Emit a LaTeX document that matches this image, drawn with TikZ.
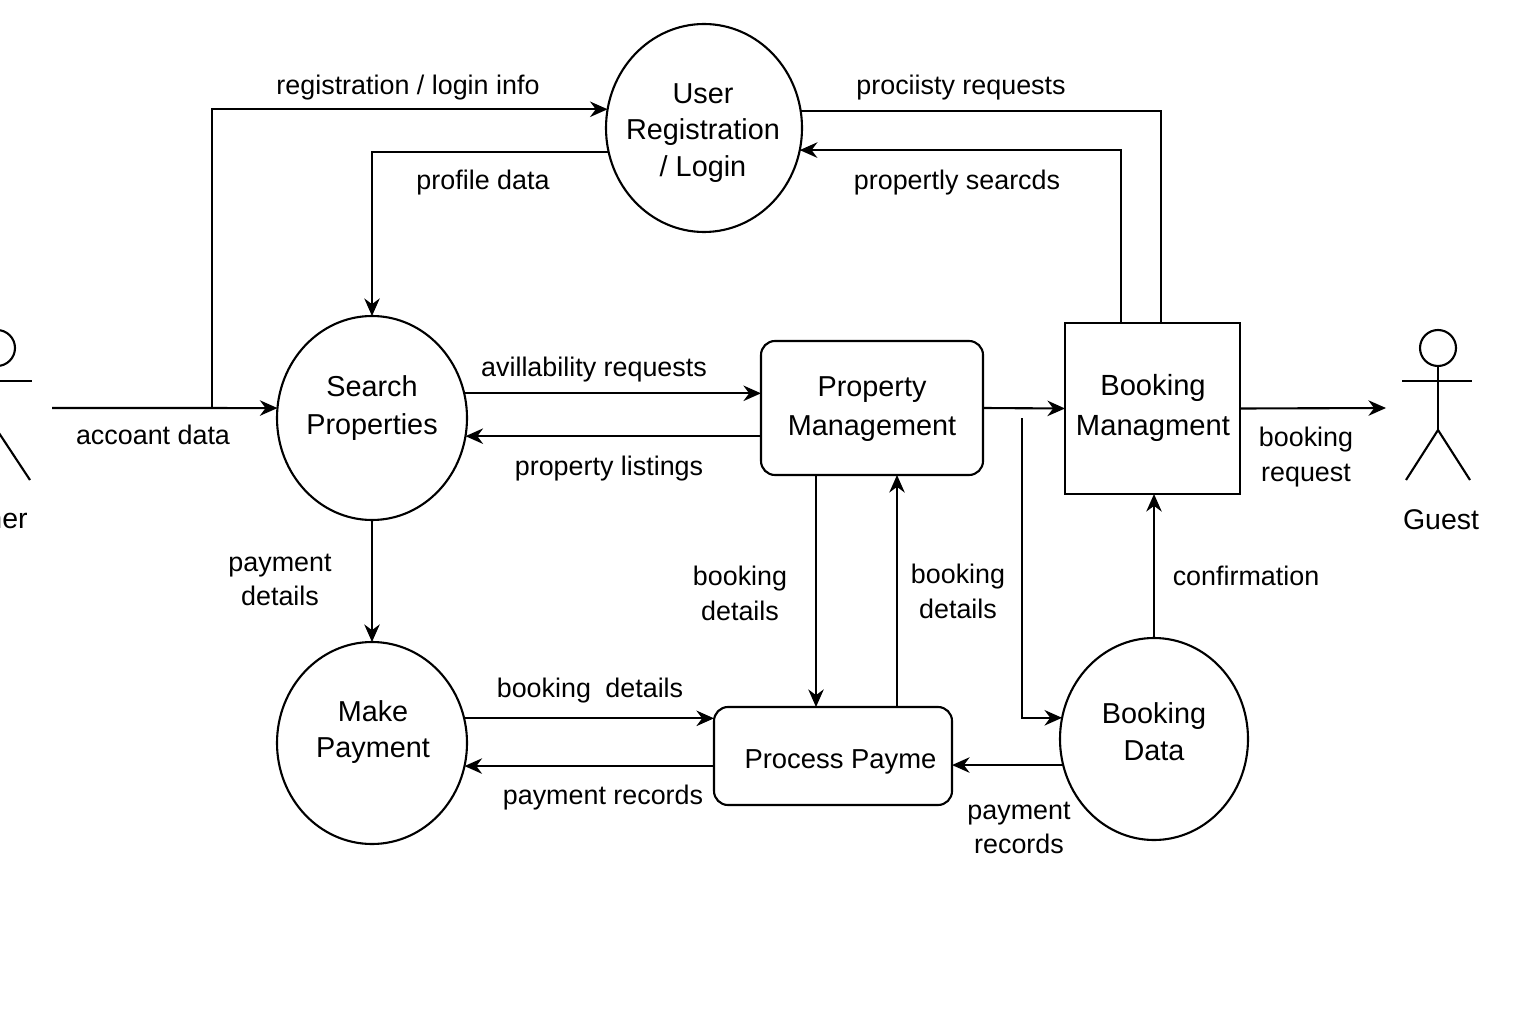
\documentclass[tikz,border=0pt]{standalone}
\usepackage{fontspec}
\setmainfont{Liberation Sans}
\usetikzlibrary{arrows.meta,shapes.geometric}
\tikzset{
  procnode/.style={draw,ellipse,inner sep=0pt,outer sep=0pt},
  boxnode/.style={draw,rectangle,inner sep=0pt,outer sep=0pt},
  proctext/.style={align=center,inner sep=0pt,font=\fontsize{8.2}{10.5}\selectfont},
  flowlabel/.style={align=center,inner sep=0pt,font=\fontsize{7.65}{9.9}\selectfont},
  flow/.style={-{Stealth[length=5pt,width=4.4pt]}}
}
\begin{document}
\begin{tikzpicture}[line width=0.6pt]
    \useasboundingbox (0,0) rectangle (15.36,10.24);

    % processes
    \node[procnode,minimum width=1.96cm,minimum height=2.08cm] (ur) at (7.04,8.96) {};
    \node[procnode,minimum width=1.90cm,minimum height=2.04cm] (search) at (3.72,6.06) {};
    \node[procnode,minimum width=1.90cm,minimum height=2.02cm] (mp) at (3.72,2.81) {};
    \node[procnode,minimum width=1.88cm,minimum height=2.02cm] (bd) at (11.54,2.85) {};
    \node[boxnode,rounded corners=0.14cm,minimum width=2.22cm,minimum height=1.34cm] (pm) at (8.72,6.16) {};
    \node[boxnode,minimum width=1.75cm,minimum height=1.71cm] (bm) at (11.525,6.155) {};
    \node[boxnode,rounded corners=0.14cm,minimum width=2.38cm,minimum height=0.98cm] (pp) at (8.33,2.68) {};

    \node[proctext] (urtext) at (7.03,8.91) {User\\Registration\\/ Login};
    \node[proctext,font=\fontsize{8.2}{10.9}\selectfont] (searchtext) at (3.72,6.16) {Search\\Properties};
    \node[proctext] (mptext) at (3.73,2.92) {Make\\Payment};
    \node[proctext] (bdtext) at (11.54,2.92) {Booking\\Data};
    \node[proctext,font=\fontsize{8.2}{10.9}\selectfont] (pmtext) at (8.72,6.15) {Property\\Management};
    \node[proctext,font=\fontsize{8.3}{11.3}\selectfont] (bmtext) at (11.53,6.16) {Booking\\Managment};
    \node[proctext,font=\fontsize{7.8}{10}\selectfont] (pptext) at (8.405,2.62) {Process Payme};

    % actors
    \node[draw,circle,inner sep=0pt,outer sep=0pt,minimum size=0.36cm] (ownerhead) at (-0.03,6.76) {};
    \draw (ownerhead.south) -- ++(0,-0.64) coordinate (ownerhip);
    \draw (-0.40,6.43) -- (0.32,6.43);
    \draw (ownerhip) -- (0.30,5.44);
    \node[flowlabel,font=\fontsize{8.1}{10}\selectfont] (ownerlabel) at (0.07,5.03) {ner};

    \node[draw,circle,inner sep=0pt,outer sep=0pt,minimum size=0.36cm] (guesthead) at (14.38,6.76) {};
    \draw (guesthead.south) -- ++(0,-0.64) coordinate (guesthip);
    \draw (14.02,6.43) -- (14.72,6.43);
    \draw (guesthip) -- (14.06,5.44);
    \draw (guesthip) -- (14.70,5.44);
    \node[flowlabel,font=\fontsize{8.1}{10}\selectfont] (guestlabel) at (14.41,5.04) {Guest};

    % free ends
    \coordinate (acctstart) at (0.52,6.16);
    \coordinate (acctup) at (2.12,6.16);
    \coordinate (guestin) at (13.86,6.16);
    \coordinate (bmout) at (11.61,7.01);
    \coordinate (bmin) at (11.21,7.01);
    \coordinate (pmdrop) at (10.22,6.06);
    \coordinate (ppin) at (8.16,3.17);
    \coordinate (ppout) at (8.97,3.17);

    % flows
    \draw[flow] (acctstart) -- (search.174);
    \draw[flow] (acctup) |- (ur.169.9);
    \draw[flow] (ur.194) -| (search.north);
    \draw (ur.10.1) -| (bmout);
    \draw[flow] (bmin) |- (ur.347.1);
    \draw[flow] (search.15.2) -- (search.15.2 -| pm.west);
    \draw[flow] (pm.west |- search.349.7) -- (search.349.7);
    \draw[flow] (pm.east) -- (bm.west);
    \draw[flow] (bm.east) -- (guestin);
    \draw[flow] (pmdrop) |- (bd.167);
    \draw[flow] (ppin |- pm.south) -- (ppin);
    \draw[flow] (ppout) -- (ppout |- pm.south);
    \draw[flow] (bd.north) -- (bd.north |- bm.south);
    \draw[flow] (search.south) -- (mp.north);
    \draw[flow] (mp.15.2) -- (mp.15.2 -| pp.west);
    \draw[flow] (pp.west |- mp.346) -- (mp.346);
    \draw[flow] (bd.196.6) -- (bd.196.6 -| pp.east);

    % labels
    \node[flowlabel] (lblreg) at (4.08,9.365) {registration / login info};
    \node[flowlabel] (lblprox) at (9.61,9.36) {prociisty requests};
    \node[flowlabel] (lblprofile) at (4.83,8.41) {profile data};
    \node[flowlabel] (lblsearch) at (9.57,8.41) {propertly searcds};
    \node[flowlabel] (lblavail) at (5.94,6.54) {avillability requests};
    \node[flowlabel] (lbllist) at (6.09,5.55) {property listings};
    \node[flowlabel] (lblacct) at (1.53,5.89) {accoant data};
    \node[flowlabel] (lblpay) at (2.80,4.44) {payment\\details};
    \node[flowlabel] (lblbookl) at (7.40,4.31) {booking\\details};
    \node[flowlabel] (lblbookr) at (9.58,4.33) {booking\\details};
    \node[flowlabel] (lblbookp) at (5.90,3.33) {booking\hspace{2pt} details};
    \node[flowlabel] (lblrecl) at (6.03,2.26) {payment records};
    \node[flowlabel] (lblrecr) at (10.19,1.96) {payment\\records};
    \node[flowlabel] (lblconf) at (12.46,4.48) {confirmation};
    \node[flowlabel] (lblreq) at (13.06,5.67) {booking\\request};
\end{tikzpicture}
\end{document}
